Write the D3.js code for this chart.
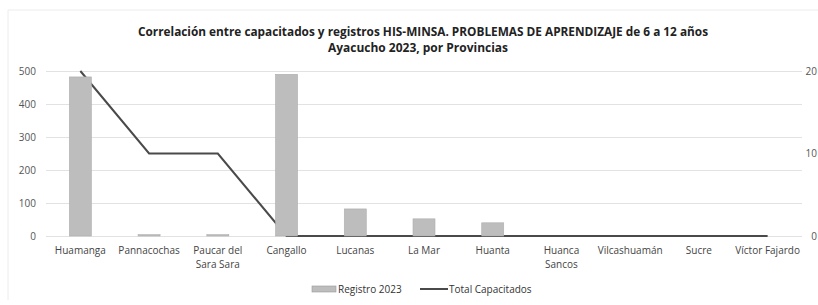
<!DOCTYPE html>
<html lang="es">
<head>
  <meta charset="UTF-8">
  <title>Correlación capacitados y registros HIS-MINSA</title>
  <script src="https://d3js.org/d3.v7.min.js"></script>
  <style>
    body { margin: 0; background: #fff; }
    svg { display: block; font-family: "Open Sans", sans-serif; }
  </style>
</head>
<body>
  <svg width="818" height="305"></svg>

  <script>
    const provincias = ['Huamanga', 'Pannacochas', 'Paucar del|Sara Sara', 'Cangallo', 'Lucanas',
      'La Mar', 'Huanta', 'Huanca|Sancos', 'Vilcashuamán', 'Sucre', 'Víctor Fajardo'];
    const registro2023 = [482, 4, 4, 490, 82, 52, 40, 0, 0, 0, 0];
    const totalCapacitados = [20, 10, 10, 0, 0, 0, 0, 0, 0, 0, 0];
    const leftTicks = [0, 100, 200, 300, 400, 500];
    const rightTicks = [0, 10, 20];

    const svg = d3.select("svg");
    const plotTop = 71, plotBottom = 236, plotLeft = 46, plotRight = 802;

    // faint frame of the scanned chart
    svg.append("path")
      .attr("d", `M8,300 L8,10 L818,10`)
      .attr("fill", "none")
      .attr("stroke", "#ececec");

    const x = d3.scaleBand().domain(provincias).range([plotLeft, plotRight]);
    const y = d3.scaleLinear().domain([0, 500]).range([plotBottom, plotTop]);
    const y2 = d3.scaleLinear().domain([0, 20]).range([plotBottom, plotTop]);

    // title
    const title = svg.append("g").attr("font-weight", "bold").attr("font-size", 12)
      .attr("fill", "#222").attr("text-anchor", "middle");
    title.append("text").attr("x", 423).attr("y", 36)
      .attr("textLength", 570).attr("lengthAdjust", "spacingAndGlyphs")
      .text("Correlación entre capacitados y registros HIS-MINSA. PROBLEMAS DE APRENDIZAJE de 6 a 12 años");
    title.append("text").attr("x", 418).attr("y", 52)
      .attr("textLength", 180).attr("lengthAdjust", "spacingAndGlyphs")
      .text("Ayacucho 2023, por Provincias");

    // gridlines + left axis
    const yAxis = d3.axisLeft(y).tickValues(leftTicks).tickSize(-(plotRight - plotLeft)).tickPadding(10);
    const gy = svg.append("g").attr("transform", `translate(${plotLeft},0)`).call(yAxis);
    gy.select(".domain").remove();
    gy.selectAll(".tick line").attr("stroke", "#e2e2e2");
    gy.selectAll(".tick text").attr("fill", "#555").attr("font-size", 10)
      .attr("font-family", "Open Sans, sans-serif");

    // right axis, squeezed against the page edge
    const y2Axis = d3.axisRight(y2).tickValues(rightTicks).tickSize(0).tickPadding(15);
    const gy2 = svg.append("g").attr("transform", `translate(${plotRight},0)`).call(y2Axis);
    gy2.select(".domain").remove();
    gy2.selectAll(".tick text").attr("fill", "#555").attr("font-size", 10)
      .attr("text-anchor", "end")
      .attr("font-family", "Open Sans, sans-serif");

    // line (drawn under the bars, as in the original)
    const line = d3.line()
      .x((d, i) => x(provincias[i]) + x.bandwidth() / 2)
      .y(d => y2(d));
    svg.append("path")
      .datum(totalCapacitados)
      .attr("d", line)
      .attr("fill", "none")
      .attr("stroke", "#4a4a4a")
      .attr("stroke-width", 2);

    // bars
    const barW = x.bandwidth() * 0.32;
    svg.append("g").selectAll("rect")
      .data(provincias.map((p, i) => ({ p, v: registro2023[i] })))
      .join("rect")
      .attr("x", d => x(d.p) + x.bandwidth() / 2 - barW / 2)
      .attr("y", d => y(d.v))
      .attr("width", barW)
      .attr("height", d => plotBottom - y(d.v))
      .attr("fill", "#bdbdbd")
      .attr("stroke", "#adadad")
      .attr("stroke-width", 0.6);

    // category labels
    const cat = svg.append("g").attr("font-size", 10).attr("fill", "#444").attr("text-anchor", "middle");
    provincias.forEach(p => {
      const cx = x(p) + x.bandwidth() / 2;
      const t = cat.append("text").attr("x", cx).attr("y", 254);
      p.split("|").forEach((s, k) => {
        t.append("tspan").attr("x", cx).attr("dy", k === 0 ? 0 : 14).text(s);
      });
    });

    // legend
    const lg = svg.append("g").attr("font-size", 10).attr("fill", "#333");
    lg.append("rect").attr("x", 312).attr("y", 286).attr("width", 24).attr("height", 6)
      .attr("fill", "#bdbdbd").attr("stroke", "#999").attr("stroke-width", 0.6);
    lg.append("text").attr("x", 338).attr("y", 293).text("Registro 2023");
    lg.append("line").attr("x1", 420).attr("x2", 448).attr("y1", 289).attr("y2", 289)
      .attr("stroke", "#4a4a4a").attr("stroke-width", 2);
    lg.append("text").attr("x", 449).attr("y", 293).text("Total Capacitados");
  </script>
</body>
</html>
